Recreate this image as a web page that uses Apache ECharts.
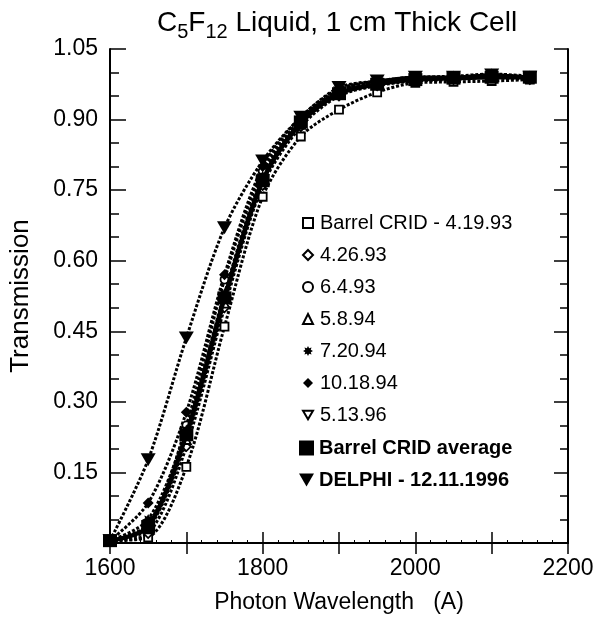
<!DOCTYPE html>
<html>
<head>
<meta charset="utf-8">
<script src="https://cdn.jsdelivr.net/npm/echarts@6/dist/echarts.min.js"></script>
<style>html,body{margin:0;padding:0;background:#fff;}#c{width:606px;height:619px;}</style>
</head>
<body>
<div id="c"></div>
<script>
// Wavelengths (Angstrom)
const wavelengths = [1600, 1650, 1700, 1750, 1800, 1850, 1900, 1950, 2000, 2050, 2100, 2150];
// Transmission values per measurement
const crid_4_19_93 = [0.005, 0.012, 0.162, 0.46, 0.736, 0.864, 0.921, 0.958, 0.978, 0.980, 0.982, 0.985];
const crid_4_26_93 = [0.005, 0.020, 0.205, 0.50, 0.760, 0.885, 0.950, 0.972, 0.982, 0.985, 0.990, 0.985];
const crid_6_4_93  = [0.005, 0.035, 0.250, 0.56, 0.790, 0.900, 0.962, 0.980, 0.990, 0.990, 0.995, 0.990];
const crid_5_8_94  = [0.005, 0.030, 0.220, 0.51, 0.770, 0.890, 0.955, 0.975, 0.985, 0.990, 0.990, 0.990];
const crid_7_20_94 = [0.005, 0.050, 0.240, 0.53, 0.780, 0.900, 0.960, 0.980, 0.990, 0.990, 0.995, 0.990];
const crid_10_18_94 = [0.005, 0.085, 0.278, 0.57, 0.800, 0.905, 0.965, 0.982, 0.990, 0.992, 0.997, 0.992];
const crid_5_13_96 = [0.005, 0.040, 0.230, 0.52, 0.775, 0.895, 0.960, 0.975, 0.985, 0.990, 0.990, 0.990];
const crid_average = [0.005, 0.035, 0.230, 0.521, 0.770, 0.895, 0.955, 0.975, 0.985, 0.988, 0.990, 0.990];
const delphi_12_11_1996 = [0.005, 0.177, 0.436, 0.670, 0.812, 0.905, 0.968, 0.982, 0.990, 0.990, 0.995, 0.990];
// Axis ticks
const xTicks = [1600, 1800, 2000, 2200];
const yTicks = [0.15, 0.30, 0.45, 0.60, 0.75, 0.90, 1.05];

const FONT = 'Liberation Sans';
const asterisk = 'path://M10 0 L5.5 2.3 L7.07 7.07 L2.3 5.5 L0 10 L-2.3 5.5 L-7.07 7.07 L-5.5 2.3 L-10 0 L-5.5 -2.3 L-7.07 -7.07 L-2.3 -5.5 L0 -10 L2.3 -5.5 L7.07 -7.07 L5.5 -2.3 Z';
const downTri = 'path://M0 0 L20 0 L10 17.3 Z';
const hollow = {color: '#fff', borderColor: '#000', borderWidth: 1.8};
const filled = {color: '#000', borderColor: '#000', borderWidth: 0};

function pairs(vals) { return wavelengths.map((w, i) => [w, vals[i]]); }

function dotted(name, vals, symbol, size, style) {
  return {
    name: name, type: 'line', data: pairs(vals),
    smooth: 0.3,
    symbol: symbol, symbolSize: size, symbolKeepAspect: true,
    itemStyle: style,
    lineStyle: {color: '#000', width: 3, type: [3, 1.8]},
    z: 2
  };
}

const series = [
  dotted('Barrel CRID - 4.19.93', crid_4_19_93, 'rect', 8, hollow),
  dotted('4.26.93', crid_4_26_93, 'diamond', 9, hollow),
  dotted('6.4.93', crid_6_4_93, 'circle', 8, hollow),
  dotted('5.8.94', crid_5_8_94, 'triangle', 9, hollow),
  dotted('7.20.94', crid_7_20_94, asterisk, 11, filled),
  dotted('10.18.94', crid_10_18_94, 'diamond', 11, filled),
  dotted('5.13.96', crid_5_13_96, downTri, 9, hollow),
  {
    name: 'Barrel CRID average', type: 'line', data: pairs(crid_average),
    smooth: 0.3,
    symbol: 'rect', symbolSize: [14, 13], itemStyle: filled,
    lineStyle: {color: '#000', width: 4.5, type: 'solid'}, z: 4
  },
  dotted('DELPHI - 12.11.1996', delphi_12_11_1996, downTri, 15, filled)
];

const legendA = ['Barrel CRID - 4.19.93', '4.26.93', '6.4.93', '5.8.94', '7.20.94', '10.18.94', '5.13.96'];
const iconsA = ['rect', 'diamond', 'circle', 'triangle', asterisk, 'diamond', downTri];
const stylesA = [hollow, hollow, hollow, hollow, filled, filled, hollow];

const option = {
  animation: false,
  backgroundColor: '#fff',
  title: {
    text: '{a|C}{s|5}{a|F}{s|12}{a| Liquid, 1 cm Thick Cell}',
    left: 152, top: 4,
    textStyle: {
      fontWeight: 'normal',
      rich: {
        a: {fontFamily: FONT, fontSize: 28, fontWeight: 'normal', color: '#000', lineHeight: 30, verticalAlign: 'top'},
        s: {fontFamily: FONT, fontSize: 20, fontWeight: 'normal', color: '#000', lineHeight: 22, padding: [13, 0, 0, 0], verticalAlign: 'top'}
      }
    }
  },
  legend: [
    {
      orient: 'vertical', left: 297, top: 208, itemGap: 12,
      itemWidth: 10, itemHeight: 10,
      textStyle: {fontFamily: FONT, fontSize: 20, color: '#000', padding: [0, 0, 0, 2]},
      data: legendA.map((n, i) => ({name: n, icon: iconsA[i], itemStyle: Object.assign({}, stylesA[i], {borderWidth: stylesA[i] === hollow ? 2 : 0})})),
      selectedMode: false
    },
    {
      orient: 'vertical', left: 294, top: 433, itemGap: 12,
      itemWidth: 15, itemHeight: 15,
      textStyle: {fontFamily: FONT, fontSize: 20, fontWeight: 'bold', color: '#000'},
      data: [
        {name: 'Barrel CRID average', icon: 'rect', itemStyle: filled},
        {name: 'DELPHI - 12.11.1996', icon: downTri, itemStyle: filled}
      ],
      selectedMode: false
    }
  ],
  grid: {left: 109, right: 38, top: 49, bottom: 76},
  xAxis: [
    {
      type: 'value', position: 'bottom', min: 1600, max: 2200, interval: 100,
      name: 'Photon Wavelength   (A)', nameLocation: 'middle', nameGap: 48,
      nameTextStyle: {fontFamily: FONT, fontSize: 23, color: '#000'},
      axisLine: {lineStyle: {color: '#000', width: 2}},
      axisTick: {inside: true, length: 11, lineStyle: {color: '#000', width: 1.5}},
      minorTick: {show: true, splitNumber: 5, length: 3, lineStyle: {color: '#000', width: 1}},
      splitLine: {show: false},
      axisLabel: {
        margin: 14, fontFamily: FONT, fontSize: 23, color: '#000',
        formatter: v => (xTicks.indexOf(v) >= 0 ? String(v) : '')
      }
    },
    {
      type: 'value', position: 'top', min: 1600, max: 2200, interval: 100,
      axisLine: {lineStyle: {color: '#000', width: 2}},
      axisTick: {inside: true, length: 11, lineStyle: {color: '#000', width: 1.5}},
      axisLabel: {show: false}, splitLine: {show: false}
    }
  ],
  yAxis: [
    {
      type: 'value', position: 'left', min: 0, max: 1.05, interval: 0.15,
      name: 'Transmission', nameLocation: 'middle', nameGap: 76,
      nameTextStyle: {fontFamily: FONT, fontSize: 26, color: '#000'},
      axisLine: {lineStyle: {color: '#000', width: 2}},
      axisTick: {inside: true, length: 16, lineStyle: {color: '#000', width: 1.5}},
      minorTick: {show: true, splitNumber: 3, length: 9, lineStyle: {color: '#000', width: 1.5}},
      splitLine: {show: false},
      axisLabel: {
        margin: 12, fontFamily: FONT, fontSize: 23, color: '#000',
        formatter: v => {
          const r = Math.round(v * 100) / 100;
          return yTicks.indexOf(r) >= 0 ? r.toFixed(2) : '';
        }
      }
    },
    {
      type: 'value', position: 'right', min: 0, max: 1.05, interval: 0.15,
      axisLine: {lineStyle: {color: '#000', width: 2}},
      axisTick: {inside: true, length: 14, lineStyle: {color: '#000', width: 1.5}},
      minorTick: {show: true, splitNumber: 3, length: 8, lineStyle: {color: '#000', width: 1.5}},
      axisLabel: {show: false}, splitLine: {show: false}
    }
  ],
  series: series
};

const chart = echarts.init(document.getElementById('c'), null, {renderer: 'canvas'});
chart.setOption(option);
</script>
</body>
</html>
